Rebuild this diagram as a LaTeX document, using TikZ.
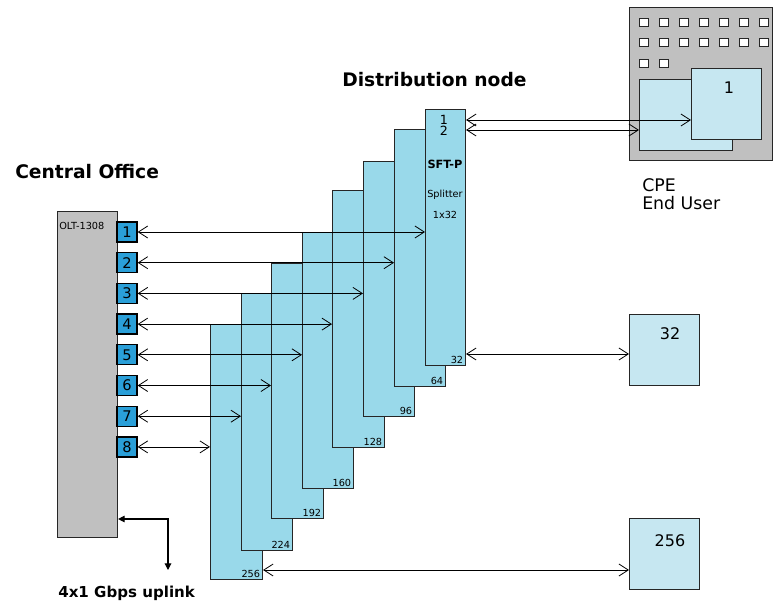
\documentclass[tikz,border=0pt]{standalone}
\usepackage{fontspec}
\setmainfont{DejaVu Sans}
\usetikzlibrary{arrows.meta}
\definecolor{splitblue}{HTML}{99D9EA}
\definecolor{portblue}{HTML}{2A9FD8}
\definecolor{paleblue}{HTML}{C6E7F1}
\definecolor{boxgray}{HTML}{C0C0C0}
\definecolor{linegray}{HTML}{262626}

\begin{document}
\begin{tikzpicture}[x=0.75pt,y=-0.75pt,
  box/.style={draw=linegray,line width=0.8pt,inner sep=0pt,anchor=north west},
  splitbox/.style={box,fill=splitblue},
  port/.style={draw=black,line width=1pt,fill=portblue,minimum size=15pt,inner sep=0pt,font=\fontsize{11}{11}\selectfont},
  link/.style={<->,>={Straight Barb[length=7pt,width=9pt]},line width=0.6pt},
  uplink/.style={<->,>={Triangle[length=5pt,width=5pt]},line width=0.8pt},
  title/.style={anchor=base west,inner sep=0pt,font=\fontsize{14}{16}\selectfont\bfseries},
  tiny/.style={inner sep=0pt,font=\fontsize{7.3}{8}\selectfont}]

\useasboundingbox (0,0) rectangle (774,603);

% splitters, back to front
\foreach \nm/\xa/\ya/\xb/\yb in {256/210/324/262/579,224/241/293/292/550,192/271/263/323/518,160/302/232/353/488,128/332/190/384/447,96/363/161/414/416,64/394/129/445/386,32/425/109/465/365}
{
  \node[splitbox,minimum width=(\xb-\xa)*0.75pt,minimum height=(\yb-\ya)*0.75pt] (s\nm) at (\xa,\ya) {};
  \node[tiny,anchor=south east] (n\nm) at ([xshift=-2pt,yshift=1.5pt]s\nm.south east) {\nm};
}

% OLT and its ports
\node[box,fill=boxgray,minimum width=45pt,minimum height=(537-211)*0.75pt] (olt) at (57,211) {};
\node[tiny,anchor=west] (oltname) at (59,226) {OLT-1308};
\foreach \i in {1,...,8}
  \node[port] (p\i) at (127,{232+30.7*(\i-1)}) {\i};

\foreach \i/\nm in {1/32,2/64,3/96,4/128,5/160,6/192,7/224,8/256}
  \draw[link] (p\i.east) -- (p\i.east -| s\nm.west);

% front splitter text
\node[inner sep=0pt,font=\fontsize{9.5}{9}\selectfont] (in1) at (444,120) {1};
\node[inner sep=0pt,font=\fontsize{9.5}{9}\selectfont] (in2) at (444,131) {2};
\node[inner sep=0pt,font=\fontsize{8.5}{9}\selectfont\bfseries] (sft) at (445,164) {SFT-P};
\node[tiny] (spl) at (445,195) {Splitter};
\node[tiny] (ratio) at (445,215) {1x32};

% CPE
\node[box,fill=boxgray,minimum width=(772-629)*0.75pt,minimum height=(160-7)*0.75pt] (cpe) at (629,7) {};
\foreach \row/\cnt in {18/7,38/7,59/2}
  \foreach \k in {1,...,\cnt}
    \node[box,fill=white,line width=0.6pt,minimum width=7pt,minimum height=6pt] (sq-\row-\k) at ({639+20*(\k-1)},\row) {};
\node[box,fill=paleblue,minimum width=(732-639)*0.75pt,minimum height=(150-79)*0.75pt] (cpe2) at (639,79) {};
\node[box,fill=paleblue,minimum width=(761-691)*0.75pt,minimum height=(139-68)*0.75pt] (cpe1) at (691,68) {};
\node[inner sep=0pt,font=\fontsize{12}{12}\selectfont] (cpe1num) at (729,88) {1};
\node[anchor=base west,inner sep=0pt,font=\fontsize{13}{16}\selectfont] (cpea) at (642,191) {CPE};
\node[anchor=base west,inner sep=0pt,font=\fontsize{13}{16}\selectfont] (cpeb) at (642,209) {End User};

% end users 32 and 256
\node[box,fill=paleblue,minimum width=52.5pt,minimum height=53.25pt] (ue32) at (629,314) {};
\node[inner sep=0pt,font=\fontsize{12}{12}\selectfont] (ue32num) at (670,334) {32};
\node[box,fill=paleblue,minimum width=52.5pt,minimum height=53.25pt] (ue256) at (629,518) {};
\node[inner sep=0pt,font=\fontsize{12}{12}\selectfont] (ue256num) at (670,541) {256};

\draw[link] (s32.east |- 0,120) -- (cpe1.west |- 0,120);
\draw[link] (s32.east |- 0,130) -- (cpe2.west |- 0,130);
\draw[link] (s32.east |- 0,354) -- (ue32.west |- 0,354);
\draw[link] (s256.east |- 0,570) -- (ue256.west |- 0,570);

% uplink
\coordinate (upl) at (168,570);
\draw[uplink] (olt.east |- 0,519) -| (upl);

% titles
\node[title] (co) at (15,178) {Central Office};
\node[title] (dn) at (342,86) {Distribution node};
\node[title,font=\fontsize{11.3}{12}\selectfont\bfseries] (ul) at (58,597) {4x1 Gbps uplink};
\end{tikzpicture}
\end{document}
